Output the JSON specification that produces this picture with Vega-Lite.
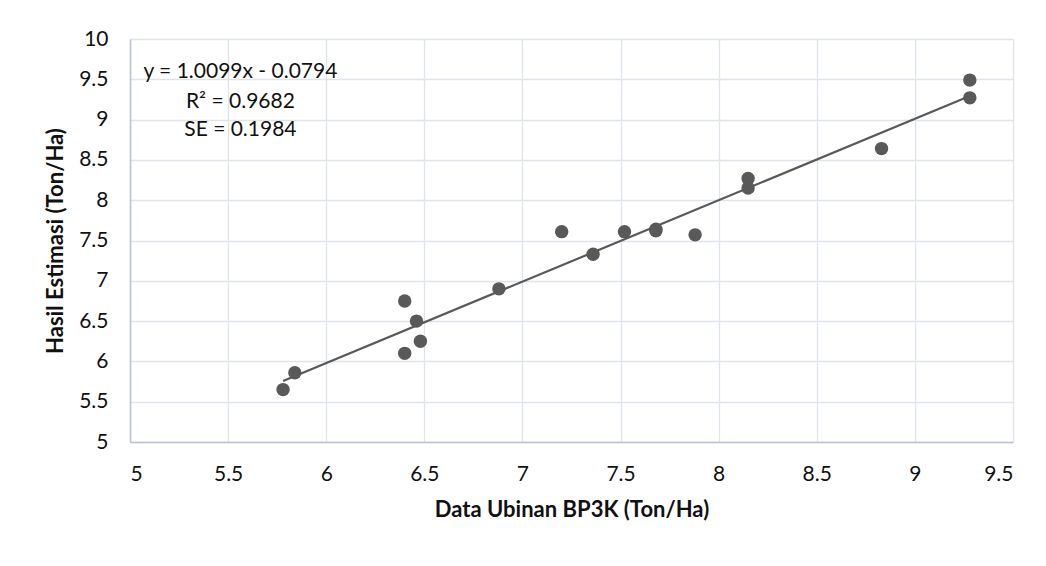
{
  "$schema": "https://vega.github.io/schema/vega-lite/v6.json",
  "width": 883,
  "height": 403,
  "autosize": {"type": "none"},
  "padding": {"left": 130, "top": 39, "right": 33, "bottom": 124},
  "background": "#ffffff",
  "config": {
    "font": "Lato",
    "view": {"stroke": null},
    "axis": {
      "gridColor": "#dfe3ea",
      "gridWidth": 1.3,
      "domainColor": "#b9c2d3",
      "domainWidth": 1.5,
      "ticks": false,
      "labelFont": "Lato",
      "labelFontSize": 21,
      "labelColor": "#111111",
      "format": "~g",
      "titleFont": "Lato",
      "titleFontSize": 22,
      "titleFontWeight": "bold",
      "titleColor": "#111111"
    }
  },
  "datasets": {
    "points": [
      {"ubinan": 5.78, "estimasi": 5.65},
      {"ubinan": 5.84, "estimasi": 5.86},
      {"ubinan": 6.40, "estimasi": 6.75},
      {"ubinan": 6.46, "estimasi": 6.50},
      {"ubinan": 6.48, "estimasi": 6.25},
      {"ubinan": 6.40, "estimasi": 6.10},
      {"ubinan": 6.88, "estimasi": 6.90},
      {"ubinan": 7.20, "estimasi": 7.61},
      {"ubinan": 7.36, "estimasi": 7.33},
      {"ubinan": 7.52, "estimasi": 7.61},
      {"ubinan": 7.68, "estimasi": 7.64},
      {"ubinan": 7.68, "estimasi": 7.62},
      {"ubinan": 7.88, "estimasi": 7.57},
      {"ubinan": 8.15, "estimasi": 8.27},
      {"ubinan": 8.15, "estimasi": 8.15},
      {"ubinan": 8.83, "estimasi": 8.64},
      {"ubinan": 9.28, "estimasi": 9.49},
      {"ubinan": 9.28, "estimasi": 9.27}
    ],
    "trend": [
      {"ubinan": 5.78, "estimasi": 5.758},
      {"ubinan": 9.28, "estimasi": 9.292}
    ],
    "notes": [
      {"ubinan": 5.5626, "estimasi": 9.594, "label": "y = 1.0099x - 0.0794"},
      {"ubinan": 5.5626, "estimasi": 9.22, "label": "R² = 0.9682"},
      {"ubinan": 5.5626, "estimasi": 8.87, "label": "SE = 0.1984"}
    ]
  },
  "layer": [
    {
      "data": {"name": "trend"},
      "mark": {"type": "line", "color": "#595959", "strokeWidth": 2.2},
      "encoding": {
        "x": {
          "field": "ubinan", "type": "quantitative",
          "scale": {"domain": [5, 9.5], "nice": false, "zero": false},
          "axis": {"values": [5, 5.5, 6, 6.5, 7, 7.5, 8, 8.5, 9, 9.5], "labelPadding": 21, "titlePadding": 15, "title": "Data Ubinan BP3K (Ton/Ha)"}
        },
        "y": {
          "field": "estimasi", "type": "quantitative",
          "scale": {"domain": [5, 10], "nice": false, "zero": false},
          "axis": {"values": [5, 5.5, 6, 6.5, 7, 7.5, 8, 8.5, 9, 9.5, 10], "labelPadding": 22, "titlePadding": 11, "title": "Hasil Estimasi (Ton/Ha)"}
        }
      }
    },
    {
      "data": {"name": "points"},
      "mark": {"type": "circle", "color": "#595959", "opacity": 1, "size": 180},
      "encoding": {
        "x": {"field": "ubinan", "type": "quantitative"},
        "y": {"field": "estimasi", "type": "quantitative"}
      }
    },
    {
      "data": {"name": "notes"},
      "mark": {"type": "text", "align": "center", "baseline": "middle", "fontSize": 21, "color": "#111111", "font": "Lato"},
      "encoding": {
        "x": {"field": "ubinan", "type": "quantitative"},
        "y": {"field": "estimasi", "type": "quantitative"},
        "text": {"field": "label"}
      }
    }
  ]
}
